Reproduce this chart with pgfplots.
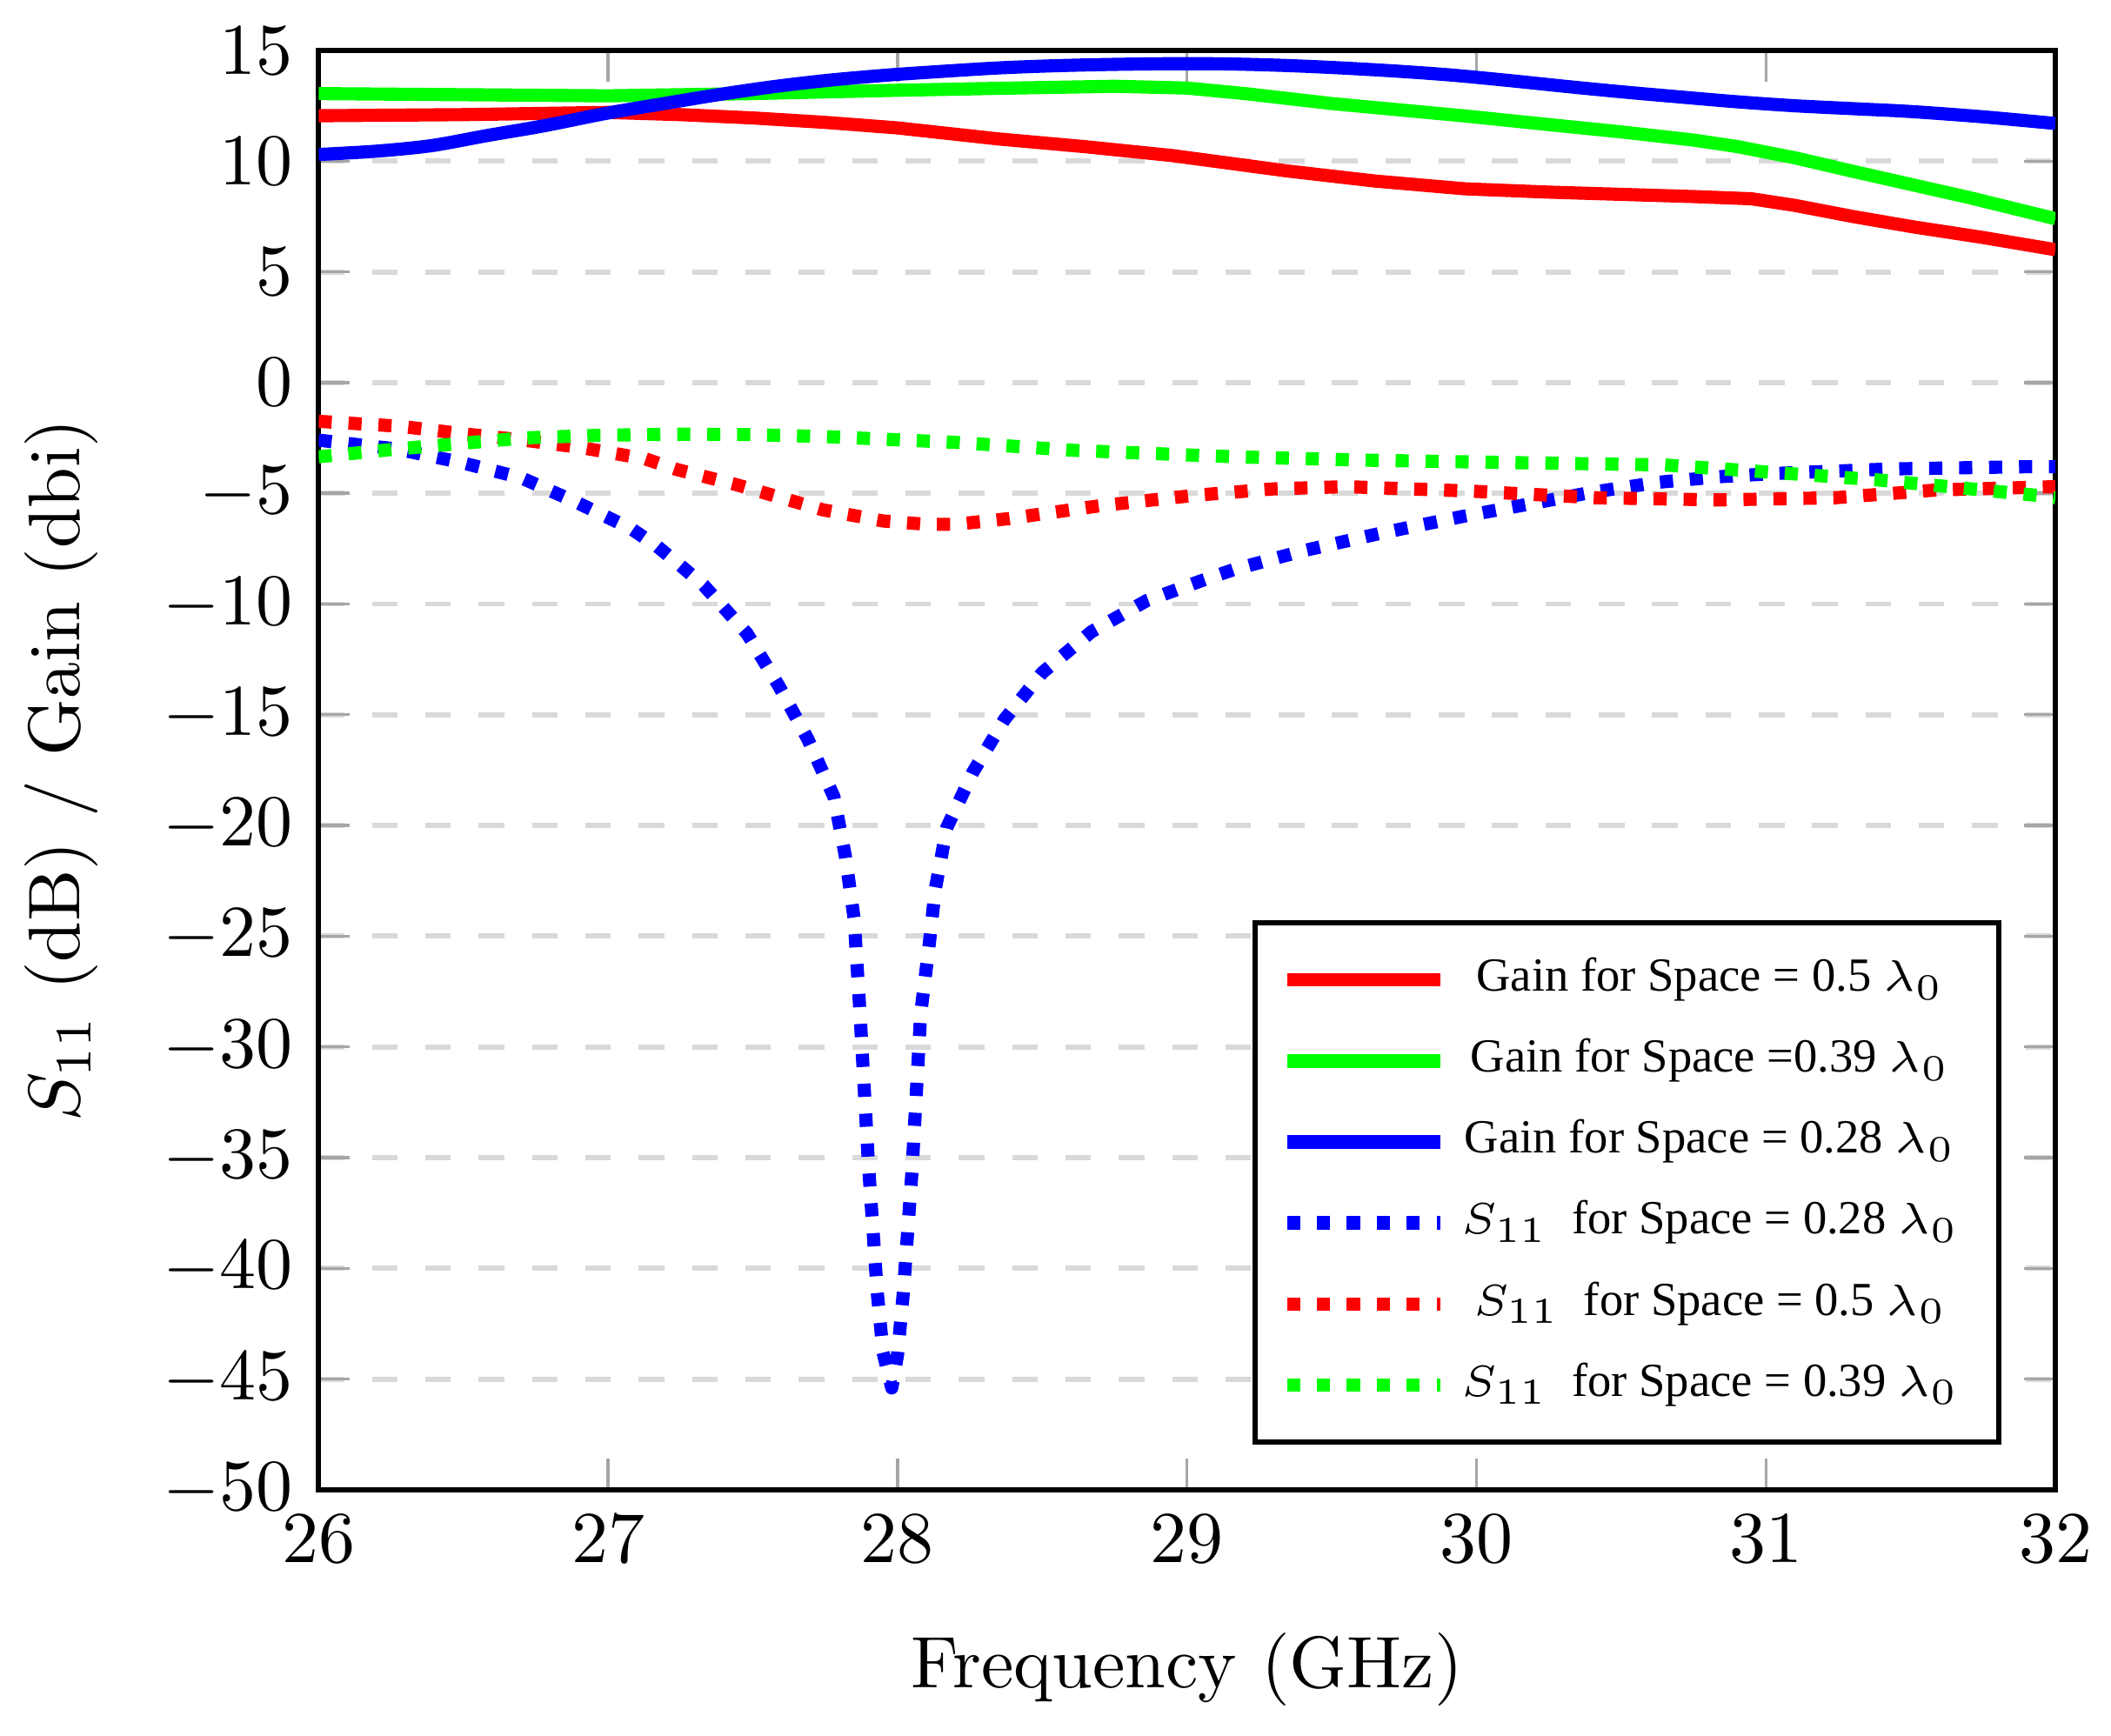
\documentclass[border=0pt]{standalone}
\usepackage{fontspec}
\usepackage{pgfplots}
\pgfplotsset{compat=1.18}
\newfontfamily\legfont{Liberation Serif}
\begin{document}
\begin{tikzpicture}
\useasboundingbox (-43.6pt,-33.6pt) rectangle (245.3pt,203.9pt);
\begin{axis}[
  scale only axis, width=237.7pt, height=197pt,
  xmin=26, xmax=32, ymin=-50, ymax=15,
  xtick={26,27,...,32}, ytick={-50,-45,...,15},
  ymajorgrids,
  major grid style={gray!30, line width=0.7pt, dash pattern=on 3.5pt off 3.8pt},
  tick style={gray!70, line width=0.4pt},
  axis line style={line width=0.7pt},
  xlabel={Frequency (GHz)},
  ylabel={$S_{11}$ (dB) / Gain (dbi)},
  xlabel style={at={(axis description cs:0.5,-0.125)}, anchor=center},
  ylabel style={at={(axis description cs:-0.148,0.5)}, anchor=center},
  legend cell align=center,
  legend style={at={(rel axis cs:0.969,0.0314)}, anchor=south east,
    font=\legfont\fontsize{6.5}{7.5}\selectfont, draw=black, line width=0.7pt,
    inner xsep=3.5pt, inner ysep=2.8pt, row sep=1.0pt},
  legend image code/.code={\draw[mark repeat=2,mark phase=2] plot coordinates {(0pt,0pt)(10.5pt,0pt)(21pt,0pt)};},
  gain/.style={line width=1.8pt, solid, line join=round},
  sdot/.style={line width=1.8pt, dash pattern=on 1.8pt off 2.3pt, line join=round},
]
% Gain 0.5 lambda
\addplot[gain, color=red] coordinates {
(26,12.05)(26.5,12.1)(27,12.2)(27.25,12.1)(27.5,11.95)(27.75,11.75)(28,11.5)
(28.35,11.0)(28.65,10.65)(28.95,10.25)(29.35,9.55)(29.65,9.1)(29.96,8.75)
(30.25,8.6)(30.5,8.5)(30.75,8.4)(30.95,8.3)(31.1,8.0)(31.3,7.5)(31.5,7.05)
(31.75,6.55)(32,6.0)};
\addlegendentry{Gain for Space = 0.5 $\lambda_0$}
% Gain 0.39 lambda
\addplot[gain, color=green] coordinates {
(26,13.05)(26.5,13.0)(27,12.95)(27.5,13.05)(28,13.2)(28.4,13.3)(28.75,13.38)
(29,13.3)(29.2,13.05)(29.5,12.6)(29.96,12.04)(30.25,11.65)(30.5,11.32)
(30.75,10.95)(30.9,10.66)(31.1,10.15)(31.3,9.54)(31.5,8.95)(31.7,8.36)(32,7.4)};
\addlegendentry{Gain for Space =0.39 $\lambda_0$}
% Gain 0.28 lambda
\addplot[gain, color=blue, smooth] coordinates {
(26,10.3)(26.2,10.45)(26.39,10.7)(26.58,11.15)(26.78,11.6)(26.99,12.15)
(27.18,12.57)(27.37,12.98)(27.57,13.36)(27.76,13.65)(27.96,13.88)(28.15,14.05)
(28.35,14.21)(28.55,14.31)(28.75,14.37)(28.95,14.4)(29.14,14.39)(29.34,14.32)
(29.53,14.21)(29.73,14.06)(29.92,13.88)(30.12,13.63)(30.32,13.36)(30.51,13.12)
(30.71,12.89)(30.9,12.68)(31.1,12.5)(31.3,12.37)(31.5,12.24)(31.75,12.0)(32,11.7)};
\addlegendentry{Gain for Space = 0.28 $\lambda_0$}
% S11 0.28 lambda
\addplot[sdot, color=blue] coordinates {
(26,-2.6)(26.27,-3.0)(26.49,-3.6)(26.7,-4.3)(26.89,-5.4)(27.08,-6.6)(27.17,-7.4)
(27.25,-8.26)(27.33,-9.15)(27.48,-11.33)(27.59,-13.7)(27.69,-16.1)(27.78,-18.7)
(27.82,-21.4)(27.85,-24.2)(27.87,-28.4)(27.9,-35.4)(27.93,-41.1)(27.95,-43.8)
(27.98,-45.4)(28.0,-43.9)(28.02,-41.1)(28.05,-35.6)(28.08,-28.5)(28.11,-25.3)
(28.13,-22.9)(28.17,-20.1)(28.26,-17.6)(28.37,-15.2)(28.5,-13.1)(28.67,-11.25)
(28.86,-9.85)(29.06,-8.9)(29.16,-8.45)(29.4,-7.6)(29.67,-6.8)(29.95,-6.05)
(30.2,-5.44)(30.4,-4.95)(30.63,-4.5)(30.84,-4.25)(31.04,-4.1)(31.43,-3.9)
(31.9,-3.8)(32,-3.8)};
\addlegendentry{$S_{11}$~ for Space = 0.28 $\lambda_0$}
% S11 0.5 lambda
\addplot[sdot, color=red] coordinates {
(26,-1.75)(26.28,-1.97)(26.49,-2.3)(26.71,-2.6)(26.91,-2.94)(27.13,-3.45)
(27.23,-3.9)(27.44,-4.6)(27.74,-5.74)(27.95,-6.25)(28.1,-6.4)(28.2,-6.4)
(28.38,-6.15)(28.7,-5.56)(29.02,-5.1)(29.3,-4.8)(29.55,-4.7)(29.98,-4.9)
(30.41,-5.2)(30.84,-5.3)(31.24,-5.2)(31.59,-4.85)(32,-4.7)};
\addlegendentry{$S_{11}$~ for Space = 0.5 $\lambda_0$}
% S11 0.39 lambda
\addplot[sdot, color=green] coordinates {
(26,-3.35)(26.27,-3.0)(26.49,-2.75)(26.71,-2.5)(26.97,-2.38)(27.23,-2.33)
(27.5,-2.35)(27.77,-2.45)(28.2,-2.7)(28.61,-3.06)(29.16,-3.35)(29.6,-3.5)
(30.06,-3.6)(30.65,-3.72)(31.04,-4.07)(31.39,-4.4)(31.63,-4.7)(31.94,-5.1)(32,-5.2)};
\addlegendentry{$S_{11}$~ for Space = 0.39 $\lambda_0$}
\end{axis}
\end{tikzpicture}
\end{document}
